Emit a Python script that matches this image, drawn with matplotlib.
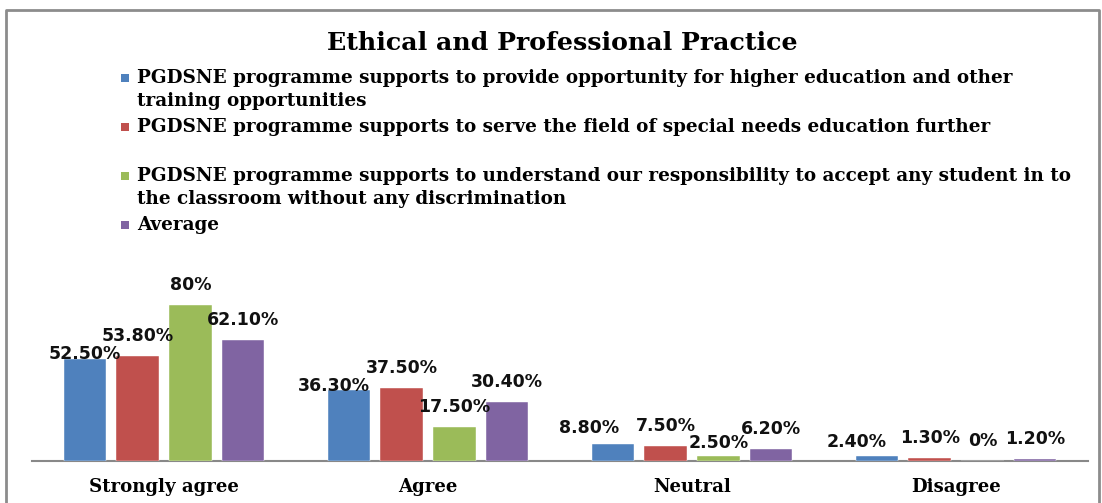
import matplotlib
matplotlib.use("Agg")
import matplotlib.pyplot as plt
from matplotlib.patches import Rectangle
import numpy as np

# chart data
categories = ["Strongly agree", "Agree", "Neutral", "Disagree"]
series_names = [
    "PGDSNE programme supports to provide opportunity for higher education and other\ntraining opportunities",
    "PGDSNE programme supports to serve the field of special needs education further",
    "PGDSNE programme supports to understand our responsibility to accept any student in to\nthe classroom without any discrimination",
    "Average",
]
provide_opportunity = [52.5, 36.3, 8.8, 2.4]
serve_field = [53.8, 37.5, 7.5, 1.3]
understand_responsibility = [80.0, 17.5, 2.5, 0.0]
average = [62.1, 30.4, 6.2, 1.2]
value_labels = [
    ["52.50%", "36.30%", "8.80%", "2.40%"],
    ["53.80%", "37.50%", "7.50%", "1.30%"],
    ["80%", "17.50%", "2.50%", "0%"],
    ["62.10%", "30.40%", "6.20%", "1.20%"],
]

colors = ["#4F81BD", "#C0504D", "#9BBB59", "#8064A2"]

W, H = 1102, 503


def px(x, y):
    # pixel position (from top-left) -> figure fraction
    return x / W, 1 - y / H


fig = plt.figure(figsize=(W / 100, H / 100), dpi=100)

# outer chart border (bottom edge is cut off in the original)
fig.add_artist(plt.Line2D([6 / W, 6 / W, 1099 / W, 1099 / W],
                          [0, 1 - 10 / H, 1 - 10 / H, 0],
                          transform=fig.transFigure, color="#8c8c8c", lw=2))

serif = "DejaVu Serif"

fig.text(*px(562, 43), "Ethical and Professional Practice", ha="center", va="center",
         fontsize=18.2, fontweight="bold", family=serif)

# legend drawn by hand to follow the original spacing
entry_y = [78, 127, 176, 225]
line_gap = 23
for name, col, y0 in zip(series_names, colors, entry_y):
    fig.add_artist(Rectangle(px(121, y0 + 4), 8 / W, 8 / H, transform=fig.transFigure,
                             facecolor=col, edgecolor="none"))
    for i, line in enumerate(name.split("\n")):
        fig.text(*px(137, y0 + i * line_gap), line, ha="left", va="center",
                 fontsize=13.2, fontweight="bold", family=serif)

x0, y_base = 32, 461
x1, y_top = 1088, 461 - 90 * 1.95
ax = fig.add_axes([x0 / W, 1 - y_base / H, (x1 - x0) / W, (y_base - y_top) / H])
ax.patch.set_alpha(0)

all_series = [provide_opportunity, serve_field, understand_responsibility, average]
x = np.arange(len(categories))
width = 0.16
step = 0.2

# label offsets in pixels (centre of text above bar top), a few nudged like the original
nudges = {(0, 0): (0, 5), (0, 1): (-15, 4), (0, 2): (-24, 16), (2, 2): (0, 13), (0, 3): (-20, 14)}

for s, (vals, col) in enumerate(zip(all_series, colors)):
    pos = x + (s - 1.5) * step
    ax.bar(pos, vals, width, color=col, edgecolor="white", linewidth=0.3)
    for c, (xp, v) in enumerate(zip(pos, vals)):
        dx, dy = nudges.get((s, c), (0, 20))
        ax.annotate(value_labels[s][c], (xp, v), xytext=(dx, dy), textcoords="offset pixels",
                    ha="center", va="center", fontsize=12.5, fontweight="bold",
                    family="DejaVu Sans", color="#111111")

ax.set_xlim(-0.5, 3.5)
ax.set_ylim(0, 90)
ax.set_xticks(x)
ax.set_xticklabels(categories, fontsize=13.1, fontweight="bold", family=serif)
ax.tick_params(axis="x", length=0, pad=12)
ax.set_yticks([])
for side in ["top", "right", "left"]:
    ax.spines[side].set_visible(False)
ax.spines["bottom"].set_color("#888888")
ax.spines["bottom"].set_linewidth(1.5)
ax.spines["bottom"].set_zorder(0.5)

fig.savefig("out.png", dpi=100)
